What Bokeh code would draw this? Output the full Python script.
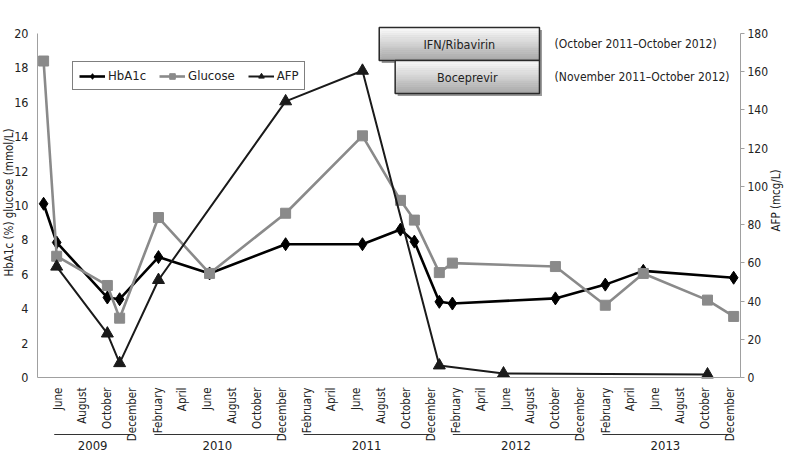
import math
import pandas as pd
from bokeh.plotting import figure
from bokeh.models import (LinearAxis, Range1d, FixedTicker, DatetimeTickFormatter,
                          Legend, LegendItem)
from bokeh.core.properties import value
from bokeh.embed import file_html
from bokeh.resources import INLINE

FONT = "DejaVu Sans Condensed, Roboto, sans-serif"

# ---------------- data ----------------
hba1c_dates = ["2009-04-28", "2009-05-30", "2009-10-01", "2009-10-31", "2010-02-03", "2010-06-08",
               "2010-12-11", "2011-06-17", "2011-09-18", "2011-10-22", "2011-12-22", "2012-01-23",
               "2012-10-01", "2013-01-31", "2013-05-04", "2013-12-11"]
hba1c = [10.1, 7.85, 4.65, 4.55, 7.0, 6.05, 7.75, 7.75, 8.6, 7.9, 4.4, 4.3, 4.6, 5.4, 6.2, 5.8]

glucose_dates = ["2009-04-28", "2009-05-30", "2009-10-01", "2009-10-31", "2010-02-03", "2010-06-08",
                 "2010-12-11", "2011-06-17", "2011-09-18", "2011-10-22", "2011-12-22", "2012-01-23",
                 "2012-10-01", "2013-01-31", "2013-05-04", "2013-10-08", "2013-12-11"]
glucose = [18.4, 7.05, 5.35, 3.45, 9.3, 6.05, 9.55, 14.05, 10.3, 9.15, 6.1, 6.65, 6.45, 4.2, 6.05, 4.5, 3.55]

afp_dates = ["2009-05-30", "2009-10-01", "2009-10-31", "2010-02-03", "2010-12-11", "2011-06-17",
             "2011-12-22", "2012-05-27", "2013-10-08"]
afp = [58, 23, 7.5, 51, 144.5, 160.5, 6.3, 2.1, 1.6]

left_ticks = [0, 2, 4, 6, 8, 10, 12, 14, 16, 18, 20]
right_ticks = [0, 20, 40, 60, 80, 100, 120, 140, 160, 180]
month_ticks = list(pd.date_range("2009-06-01", "2013-12-01", freq="2MS"))
years = ["2009", "2010", "2011", "2012", "2013"]

left_title = "HbA1c (%) glucose (mmol/L)"
right_title = "AFP (mcg/L)"

treatments = ["IFN/Ribavirin", "Boceprevir"]
treatment_periods = ["(October 2011\u2013October 2012)", "(November 2011\u2013October 2012)"]
treatment_box_start = ["2011-07-28", "2011-09-05"]
treatment_box_end = ["2012-08-23", "2012-08-23"]


def ms(d):
    return pd.Timestamp(d).value / 1e6


DAY = 86400000.0

# ---------------- layout (whole canvas is the frame) ----------------
W, H = 784, 459
PAGE_X = 8                     # horizontal offset of the canvas against the reference picture
X_REF = pd.Timestamp("2009-06-01")
X_REF_PX = 65.0                # reference px of the June 2009 tick
PX_PER_DAY = 0.4088
Y0_PX = 377.0                  # reference px of value 0
PX_PER_UNIT = 17.2             # left axis px per unit (0..20 spans 344 px)
R_SCALE = 9.0                  # right axis (0..180) / left axis (0..20)


def date_at(px):
    return ms(X_REF) + (px - X_REF_PX) / PX_PER_DAY * DAY


def val_at(py):
    return (Y0_PX - py) / PX_PER_UNIT


x_lo, x_hi = date_at(PAGE_X), date_at(PAGE_X + W)
y_lo, y_hi = val_at(H), val_at(0)
ax_left, ax_right = date_at(45), date_at(748)

p = figure(width=W, height=H, x_axis_type="datetime", title=None,
           x_range=Range1d(x_lo, x_hi), y_range=Range1d(y_lo, y_hi),
           output_backend="svg", toolbar_location=None,
           min_border_left=0, min_border_right=0, min_border_top=0, min_border_bottom=0)
p.outline_line_color = None
p.grid.visible = False
p.background_fill_color = "white"
p.border_fill_color = "white"
p.extra_y_ranges = {"afp": Range1d(y_lo * R_SCALE, y_hi * R_SCALE)}

AX = "#a0a0a0"
TXT = "#222222"

# left axis
ya = p.yaxis[0]
ya.fixed_location = ax_left
ya.bounds = (0, 20)
ya.ticker = FixedTicker(ticks=left_ticks)
ya.minor_tick_line_color = None
ya.major_tick_line_color = None
ya.axis_line_color = AX
ya.major_label_text_font = FONT
ya.major_label_text_font_size = "12.5px"
ya.major_label_text_color = TXT
ya.major_label_standoff = 3

# right axis
ra = LinearAxis(y_range_name="afp", ticker=FixedTicker(ticks=right_ticks))
ra.fixed_location = ax_right
ra.bounds = (0, 180)
ra.minor_tick_line_color = None
ra.major_tick_line_color = AX
ra.major_tick_out = 4
ra.major_tick_in = 0
ra.axis_line_color = AX
ra.major_label_text_font = FONT
ra.major_label_text_font_size = "12px"
ra.major_label_text_color = TXT
ra.major_label_standoff = 3
p.add_layout(ra, "right")

# axis titles (rotated, reading bottom to top)
p.text(x=[date_at(16.5)], y=[val_at(202)], text=[left_title], angle=math.pi / 2,
       text_font=value(FONT), text_font_size="11.5px", text_color=TXT,
       text_align="center", text_baseline="middle")
p.text(x=[date_at(783.5)], y=[val_at(200)], text=[right_title], angle=math.pi / 2,
       text_font=value(FONT), text_font_size="11.5px", text_color=TXT,
       text_align="center", text_baseline="middle")

# month axis
fmt = "%B"
xa = p.xaxis[0]
xa.fixed_location = 0
xa.bounds = (ax_left, ax_right)
xa.ticker = FixedTicker(ticks=[ms(t) for t in month_ticks])
xa.formatter = DatetimeTickFormatter(microseconds=fmt, milliseconds=fmt, seconds=fmt, minsec=fmt,
                                     minutes=fmt, hourmin=fmt, hours=fmt, days=fmt, months=fmt,
                                     years=fmt, context=None)
xa.major_label_orientation = math.pi / 2
xa.major_tick_line_color = None
xa.minor_tick_line_color = None
xa.axis_line_color = AX
xa.major_label_text_font = FONT
xa.major_label_text_font_size = "11.5px"
xa.major_label_text_color = TXT
xa.major_label_standoff = 4

# year brackets + labels
year_start, year_end, year_mid = [], [], []
for y in years:
    ts = [ms(t) for t in month_ticks if str(t.year) == y]
    s = min(ts) - 8 * DAY
    e = max(ts) - 3 * DAY
    year_start.append(s)
    year_end.append(e)
    year_mid.append((s + e) / 2)

BR_Y = val_at(434)
YEAR_Y = val_at(445)
p.segment(x0=year_start, y0=[BR_Y] * len(years), x1=year_end, y1=[BR_Y] * len(years),
          line_color="#333333", line_width=1)
p.text(x=year_mid, y=[YEAR_Y] * len(years), text=years, text_font=value(FONT),
       text_font_size="13px", text_color=TXT, text_align="center", text_baseline="middle")

# ---------------- treatment boxes ----------------
box_top = [val_at(27), val_at(60)]
box_bot = [val_at(60), val_at(93)]
shx = 2.5 / PX_PER_DAY * DAY
shy = 2.5 / PX_PER_UNIT
for i in range(2):
    l, r = ms(treatment_box_start[i]), ms(treatment_box_end[i])
    t, b = box_top[i], box_bot[i]
    p.quad(left=l + shx, right=r + shx, top=t - shy, bottom=b - shy,
           fill_color="#808080", fill_alpha=0.8, line_color=None)
    n = 16
    lefts, rights, tops, bots, cols = [], [], [], [], []
    for k in range(n):
        c = int(252 - (252 - 172) * k / (n - 1))
        lefts.append(l)
        rights.append(r)
        tops.append(t - (t - b) * k / n)
        bots.append(t - (t - b) * (k + 1) / n)
        cols.append("#%02x%02x%02x" % (c, c, c))
    p.quad(left=lefts, right=rights, top=tops, bottom=bots, fill_color=cols, line_color=cols,
           line_width=0.6)
    p.quad(left=l, right=r, top=t, bottom=b, fill_alpha=0, line_color="#2a2a2a", line_width=1.5)
    p.text(x=[(l + r) / 2], y=[(t + b) / 2], text=[treatments[i]], text_align="center",
           text_baseline="middle", text_font=value(FONT), text_font_size="12.5px", text_color=TXT)
    p.text(x=[ms("2012-09-29")], y=[(t + b) / 2], text=[treatment_periods[i]],
           text_align="left", text_baseline="middle", text_font=value(FONT),
           text_font_size="12px", text_color=TXT)

# ---------------- series ----------------
hx = pd.to_datetime(hba1c_dates)
gx = pd.to_datetime(glucose_dates)
ax_ = pd.to_datetime(afp_dates)

h_l = p.line(hx, hba1c, line_color="black", line_width=2.6)
h_m = p.scatter(hx, hba1c, marker="diamond", size=13, fill_color="black", line_color="black")
g_l = p.line(gx, glucose, line_color="#8a8a8a", line_width=2.6)
g_m = p.scatter(gx, glucose, marker="square", size=10, fill_color="#8a8a8a", line_color="#8a8a8a")
a_l = p.line(ax_, afp, line_color="#1a1a1a", line_width=2.0, y_range_name="afp")
a_m = p.scatter(ax_, afp, marker="triangle", size=12, fill_color="#1a1a1a", line_color="#1a1a1a",
                y_range_name="afp")

legend = Legend(items=[LegendItem(label="HbA1c", renderers=[h_l, h_m]),
                       LegendItem(label="Glucose", renderers=[g_l, g_m]),
                       LegendItem(label="AFP", renderers=[a_l, a_m])],
                orientation="horizontal", location=(80 - PAGE_X, H - 90),
                border_line_color="black", border_line_width=1,
                label_text_font=FONT, label_text_font_size="13px", label_text_color=TXT,
                glyph_width=26, glyph_height=14, label_height=14, label_standoff=3,
                spacing=13, padding=6, margin=0, background_fill_alpha=1)
p.add_layout(legend)

open("out.html", "w").write(file_html(p, INLINE))
